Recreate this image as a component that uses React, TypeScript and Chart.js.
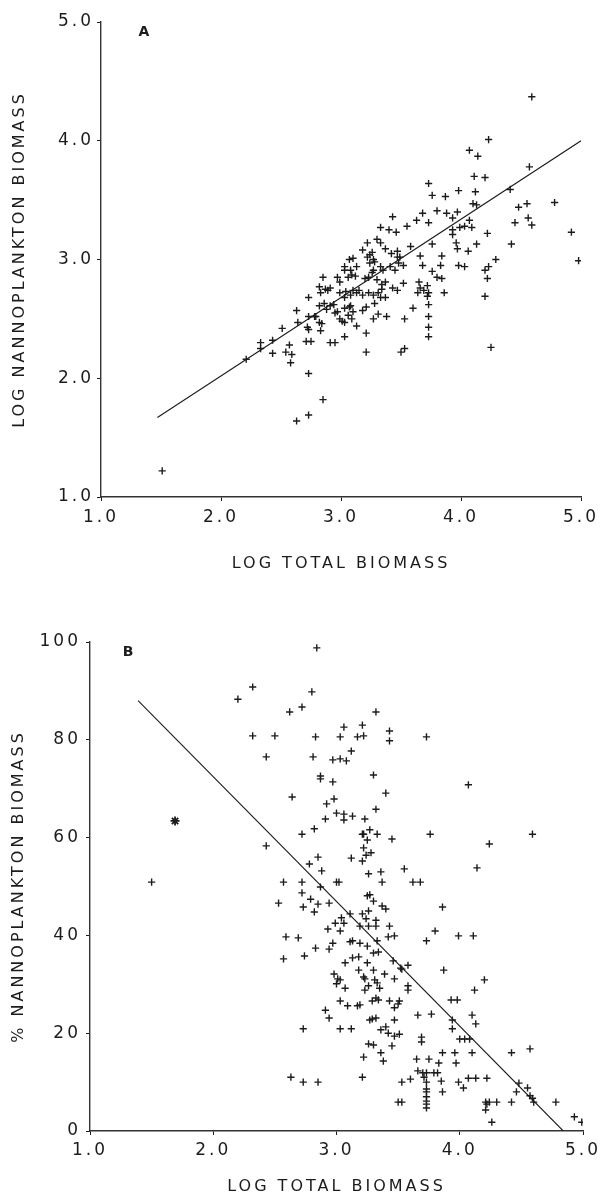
import React, { useEffect, useRef } from 'react';
import { Chart, registerables } from 'chart.js';

Chart.register(...registerables);

// ---------- Panel A : log nannoplankton biomass vs log total biomass ----------
const aTotal = [
  1.51, 2.21, 2.33, 2.33, 2.43, 2.43, 2.51, 2.54, 2.57, 2.59,
  2.58, 2.63, 2.64, 2.63, 2.73, 2.85, 2.73, 2.73, 2.72, 2.73,
  2.71, 2.75, 2.83, 2.79, 2.82, 2.82, 2.86, 2.91, 2.88, 2.91,
  2.95, 3.03, 2.95, 2.99, 3.01, 3.06, 3.09, 3.13, 3.03, 3.07,
  3.18, 3.21, 3.21, 3.27, 3.28, 3.31, 3.38, 3.34, 3.53, 3.60,
  3.50, 3.53, 3.73, 3.73, 3.73, 3.73, 3.73, 3.86, 4.20, 4.25,
  4.59, 4.23, 4.07, 4.14, 4.57, 4.11, 4.20, 3.73, 3.76, 3.87,
  3.98, 4.12, 4.10, 4.13, 4.41, 4.78, 4.48, 4.55, 4.56, 4.59,
  4.45, 4.22, 4.42, 4.92, 4.98, 4.29, 4.23, 4.20, 4.22, 3.43,
  3.33, 3.40, 3.46, 3.55, 3.63, 3.68, 3.73, 3.80, 3.88, 3.97,
  3.93, 4.07, 3.93, 3.99, 4.03, 4.09, 3.93, 3.76, 3.96, 3.97,
  4.06, 4.13, 3.84, 3.58, 3.66, 3.68, 3.83, 3.76, 3.98, 4.03,
  3.80, 3.84, 3.65, 3.72, 3.69, 3.66, 3.64, 3.72,
  2.85, 2.82, 2.87, 2.91, 2.83, 2.97, 2.99, 3.03, 3.08, 3.13,
  3.10, 3.06, 3.12, 3.18, 3.22, 3.22, 3.24, 3.28, 3.33, 3.35,
  3.23, 3.26, 3.30, 3.34, 3.37, 3.30, 3.33, 3.37, 3.42, 3.47,
  3.47, 3.48, 3.41, 3.45, 3.52, 3.52, 3.43, 3.47, 3.33, 3.37,
  2.99, 3.03, 3.08, 3.13, 3.18, 3.07, 3.26, 3.03, 3.09, 3.24,
  3.27, 3.27, 3.20, 2.89, 3.04, 3.10, 3.15, 3.23, 3.27, 3.31,
  2.78, 2.94, 2.97, 3.03, 3.08, 3.10, 3.21, 2.84, 2.73, 3.49,
];
const aNanno = [
  1.22, 2.16, 2.30, 2.25, 2.32, 2.21, 2.42, 2.22, 2.28, 2.20,
  2.13, 2.57, 2.47, 1.64, 1.69, 1.82, 2.04, 2.68, 2.43, 2.41,
  2.31, 2.31, 2.40, 2.52, 2.47, 2.61, 2.63, 2.61, 2.58, 2.30,
  2.30, 2.35, 2.55, 2.50, 2.48, 2.53, 2.50, 2.44, 2.59, 2.60,
  2.57, 2.38, 2.22, 2.50, 2.63, 2.54, 2.52, 2.75, 2.50, 2.59,
  2.22, 2.25, 2.72, 2.62, 2.52, 2.43, 2.35, 2.72, 2.69, 2.26,
  4.37, 4.01, 3.92, 3.87, 3.78, 3.70, 3.69, 3.64, 3.54, 3.53,
  3.58, 3.57, 3.47, 3.46, 3.59, 3.48, 3.44, 3.47, 3.35, 3.29,
  3.31, 3.22, 3.13, 3.23, 2.99, 3.00, 2.94, 2.91, 2.84, 3.36,
  3.27, 3.25, 3.23, 3.28, 3.33, 3.39, 3.31, 3.41, 3.39, 3.40,
  3.35, 3.33, 3.25, 3.27, 3.28, 3.27, 3.21, 3.13, 3.14, 3.09,
  3.07, 3.13, 3.03, 3.11, 3.03, 2.95, 2.95, 2.90, 2.95, 2.94,
  2.85, 2.84, 2.81, 2.78, 2.74, 2.76, 2.72, 2.69,
  2.85, 2.77, 2.75, 2.76, 2.72, 2.85, 2.81, 2.94, 2.91, 2.94,
  3.01, 2.85, 2.86, 3.08, 3.14, 3.02, 2.97, 2.98, 2.94, 2.91,
  2.85, 2.89, 2.83, 2.79, 2.81, 3.17, 3.14, 3.09, 3.05, 3.07,
  3.02, 2.97, 2.94, 2.91, 2.95, 2.80, 2.76, 2.74, 2.68, 2.68,
  2.72, 2.68, 2.70, 2.72, 2.70, 3.00, 3.06, 2.91, 2.87, 3.04,
  3.00, 2.91, 2.84, 2.74, 2.73, 2.74, 2.74, 2.72, 2.70, 2.72,
  2.52, 2.62, 2.56, 2.47, 2.61, 2.56, 2.60, 2.46, 2.52, 3.02,
];
const aFitX = [1.47, 5.0];
const aFitY = [1.67, 4.0];

// ---------- Panel B : % nannoplankton biomass vs log total biomass ----------
const bTotal = [
  2.20, 2.32, 2.62, 2.32, 2.50, 2.43, 2.64, 2.43, 1.50, 2.57,
  2.53, 2.59, 2.69, 2.57, 2.63, 2.84, 2.80, 2.72, 3.32, 3.06,
  3.21, 3.43, 3.43, 2.83, 3.03, 3.17, 3.22, 3.73, 2.81, 2.97,
  3.03, 3.08, 3.12, 2.87, 2.87, 2.97, 3.30, 2.92, 2.98, 3.40,
  3.00, 3.06, 3.06, 3.13, 2.91, 3.23, 3.32, 2.72, 2.82, 3.21,
  3.22, 3.27, 3.33, 3.25, 3.45, 3.76, 3.22, 3.24, 3.28, 2.85,
  2.78, 3.12, 3.21, 2.88, 3.26, 3.36, 3.55, 2.72, 3.00, 3.02,
  3.37, 3.62, 3.68, 4.07, 4.59, 4.24, 4.14, 2.72, 2.79, 2.87,
  3.25, 3.27, 2.73, 2.85, 2.82, 2.94, 3.30, 3.37, 3.40, 3.86,
  3.11, 3.21, 3.26, 3.04, 3.06, 2.99, 2.93, 3.03, 3.19, 3.26,
  3.32, 3.32, 3.43, 3.42, 3.47, 2.94, 2.97, 3.11, 3.13, 3.19,
  3.25, 3.33, 2.83, 2.74, 3.07, 3.13, 3.18, 3.25, 3.30, 3.34,
  3.46, 3.52, 3.53, 3.58, 3.73, 3.80, 3.99, 4.11, 3.87, 3.18,
  3.22, 3.23, 3.30, 3.39, 3.47, 2.98, 3.01, 3.03, 3.00, 3.07,
  3.26, 3.31, 3.33, 3.35, 3.23, 3.58, 3.58, 4.20, 4.12, 3.03,
  3.09, 3.17, 3.19, 3.29, 3.32, 3.34, 3.43, 3.50, 3.51, 3.47,
  3.93, 3.98, 2.91, 2.94, 3.27, 3.29, 3.32, 3.47, 3.66, 3.77,
  3.94, 4.10, 4.13, 2.73, 3.03, 3.12, 3.36, 3.40, 3.42, 3.47,
  3.51, 3.69, 3.69, 4.00, 4.04, 4.08, 3.94, 3.26, 3.30, 3.45,
  3.22, 3.36, 3.38, 3.65, 3.75, 3.86, 3.83, 3.96, 3.97, 4.10,
  4.42, 4.57, 2.73, 2.85, 3.21, 3.53, 3.60, 3.66, 3.70, 3.73,
  3.79, 3.82, 3.71, 3.73, 3.85, 3.86, 3.73, 3.73, 3.73, 3.73,
  3.73, 3.73, 3.99, 4.03, 4.07, 4.13, 4.22, 4.21, 4.22, 4.21,
  4.24, 4.30, 4.26, 3.50, 3.53, 4.42, 4.46, 4.48, 4.55, 4.57,
  4.59, 4.60, 4.78, 4.93, 4.99, 3.24,
];
const bPercent = [
  88.3, 90.8, 85.7, 80.8, 80.8, 76.5, 68.3, 58.3, 50.9, 50.9,
  46.6, 39.7, 39.5, 35.2, 11.0, 98.8, 89.8, 86.7, 85.7, 82.6,
  83.0, 81.8, 79.8, 80.6, 80.6, 80.6, 80.8, 80.6, 76.5, 75.9,
  76.1, 75.7, 77.7, 72.6, 72.0, 71.4, 72.8, 66.9, 67.9, 69.1,
  65.0, 64.8, 63.6, 64.4, 63.8, 63.8, 65.8, 60.7, 61.8, 60.7,
  60.7, 61.6, 60.7, 59.5, 59.7, 60.7, 57.9, 56.4, 56.9, 56.0,
  54.6, 55.8, 55.2, 53.2, 52.6, 53.0, 53.6, 50.9, 50.9, 50.9,
  50.9, 50.9, 50.9, 70.8, 60.7, 58.7, 53.8, 48.7, 47.4, 49.9,
  48.1, 48.3, 45.8, 46.4, 44.8, 46.6, 47.0, 46.0, 45.4, 45.8,
  44.4, 44.4, 45.0, 43.6, 42.5, 42.5, 41.3, 40.9, 41.9, 41.9,
  41.9, 43.1, 41.9, 39.7, 39.9, 37.2, 38.4, 38.7, 38.9, 38.4,
  37.8, 38.9, 37.4, 35.8, 34.4, 35.4, 35.6, 34.4, 36.4, 36.6,
  34.8, 33.3, 33.1, 33.9, 38.9, 40.9, 39.9, 39.9, 32.9, 32.9,
  31.5, 31.1, 32.9, 32.1, 31.1, 32.1, 31.1, 30.9, 30.1, 29.2,
  29.7, 30.9, 30.3, 29.2, 28.8, 29.7, 28.8, 30.9, 28.8, 26.6,
  25.6, 25.6, 25.8, 26.6, 27.2, 26.8, 26.6, 26.0, 26.6, 25.2,
  26.8, 26.8, 24.7, 23.1, 22.7, 22.9, 23.1, 22.7, 23.7, 23.9,
  22.7, 23.7, 21.9, 20.9, 20.9, 20.9, 20.7, 21.3, 20.0, 19.4,
  19.8, 19.2, 18.2, 18.8, 18.8, 18.8, 20.9, 17.8, 17.6, 17.4,
  15.1, 16.0, 14.3, 14.7, 14.7, 16.0, 13.9, 16.0, 13.9, 16.0,
  16.0, 16.8, 10.0, 10.0, 11.0, 10.0, 10.6, 12.3, 11.9, 11.9,
  11.9, 11.9, 11.0, 10.0, 10.2, 8.0, 8.6, 8.0, 7.0, 6.1,
  5.5, 4.7, 10.0, 8.8, 10.8, 10.8, 10.8, 5.9, 5.5, 4.3,
  5.9, 5.9, 1.8, 5.9, 5.9, 5.9, 8.0, 9.8, 8.8, 7.2,
  6.7, 5.9, 5.9, 2.9, 1.8, 43.4,
];
const bStarTotal = [1.69];
const bStarPercent = [63.4];
const bFitX = [1.39, 4.84];
const bFitY = [88.0, 0.0];

// ---------- Axis ticks and titles ----------
const logTicks = [1, 2, 3, 4, 5];
const logTickLabels = ['1.0', '2.0', '3.0', '4.0', '5.0'];
const pctTicks = [0, 20, 40, 60, 80, 100];
const pctTickLabels = ['0', '20', '40', '60', '80', '100'];
const xTitle = 'LOG TOTAL BIOMASS';
const aYTitle = 'LOG NANNOPLANKTON BIOMASS';
const bYTitle = '% NANNOPLANKTON BIOMASS';

const FONT = '"DejaVu Sans", "Liberation Sans", sans-serif';
const INK = '#1c1c1c';

const zip = (xs: number[], ys: number[]) => xs.map((x, i) => ({ x, y: ys[i] }));

function makeAxis(o: {
  min: number; max: number; values: number[]; labels: string[];
  horizontal: boolean; size: number; title: string; titlePad: any; tickPad: number;
}) {
  return {
    type: 'linear',
    min: o.min,
    max: o.max,
    afterBuildTicks: (s: any) => { s.ticks = o.values.map((v) => ({ value: v })); },
    afterFit: (s: any) => { if (o.horizontal) s.height = o.size; else s.width = o.size; },
    grid: { display: true, drawOnChartArea: false, drawTicks: true, tickLength: 4, color: INK, lineWidth: 1 },
    border: { display: true, color: '#333', width: 1.4 },
    ticks: {
      autoSkip: false, maxRotation: 0, minRotation: 0,
      padding: o.tickPad, color: INK,
      font: { family: FONT, size: 17 },
      callback: (_v: any, i: number) => o.labels[i],
    },
    title: { display: true, text: o.title, color: INK, font: { family: FONT, size: 16 }, padding: o.titlePad },
  };
}

function panelPlugin(letter: string, dx: number, dy: number) {
  return {
    id: 'panel' + letter,
    beforeDraw(chart: any) { chart.ctx.letterSpacing = '3px'; },
    afterDraw(chart: any) {
      const { ctx, chartArea } = chart;
      ctx.save();
      ctx.letterSpacing = '0px';
      ctx.font = `bold 14px ${FONT}`;
      ctx.fillStyle = INK;
      ctx.textAlign = 'center';
      ctx.textBaseline = 'middle';
      ctx.fillText(letter, chartArea.left + dx, chartArea.top + dy);
      ctx.restore();
    },
  };
}

const pointStyle = { pointStyle: 'cross', pointRadius: 3.6, pointBorderWidth: 1.4, borderColor: INK, backgroundColor: INK, pointHoverRadius: 3.6 };
const fitStyle = { showLine: true, pointRadius: 0, borderColor: INK, borderWidth: 1.1, fill: false };

export default function App() {
  const aRef = useRef<HTMLCanvasElement>(null);
  const bRef = useRef<HTMLCanvasElement>(null);

  useEffect(() => {
    const common = {
      responsive: false,
      animation: false,
      plugins: { legend: { display: false }, tooltip: { enabled: false } },
      events: [],
    };
    const chartA = new Chart(aRef.current as HTMLCanvasElement, {
      type: 'scatter',
      data: {
        datasets: [
          { data: zip(aTotal, aNanno), ...pointStyle },
          { data: zip(aFitX, aFitY), ...fitStyle },
        ],
      } as any,
      options: {
        ...common,
        layout: { padding: { left: 0, right: 22, top: 22, bottom: 0 } },
        scales: {
          x: makeAxis({ min: 1, max: 5, values: logTicks, labels: logTickLabels, horizontal: true, size: 93, title: xTitle, titlePad: { bottom: 17 }, tickPad: 6 }),
          y: makeAxis({ min: 1, max: 5, values: logTicks, labels: logTickLabels, horizontal: false, size: 101, title: aYTitle, titlePad: { top: 10 }, tickPad: 3 }),
        },
      } as any,
      plugins: [panelPlugin('A', 43, 10)],
    });
    const chartB = new Chart(bRef.current as HTMLCanvasElement, {
      type: 'scatter',
      data: {
        datasets: [
          { data: zip(bTotal, bPercent), ...pointStyle },
          { data: zip(bStarTotal, bStarPercent), pointStyle: 'star', pointRadius: 4.5, pointBorderWidth: 1.8, borderColor: INK, backgroundColor: INK },
          { data: zip(bFitX, bFitY), ...fitStyle },
        ],
      } as any,
      options: {
        ...common,
        layout: { padding: { left: 0, right: 20, top: 42, bottom: 0 } },
        scales: {
          x: makeAxis({ min: 1, max: 5, values: logTicks, labels: logTickLabels, horizontal: true, size: 65, title: xTitle, titlePad: { bottom: 0 }, tickPad: 5 }),
          y: makeAxis({ min: 0, max: 100, values: pctTicks, labels: pctTickLabels, horizontal: false, size: 90, title: bYTitle, titlePad: { top: 9 }, tickPad: 5 }),
        },
      } as any,
      plugins: [panelPlugin('B', 38, 10)],
    });
    return () => { chartA.destroy(); chartB.destroy(); };
  }, []);

  return (
    <div style={{ position: 'absolute', left: 0, top: 0, width: 603, height: 1196, background: '#fff', overflow: 'hidden' }}>
      <canvas ref={aRef} width={603} height={590} style={{ position: 'absolute', left: 0, top: 0, width: 603, height: 590 }} />
      <canvas ref={bRef} width={603} height={596} style={{ position: 'absolute', left: 0, top: 600, width: 603, height: 596 }} />
    </div>
  );
}
